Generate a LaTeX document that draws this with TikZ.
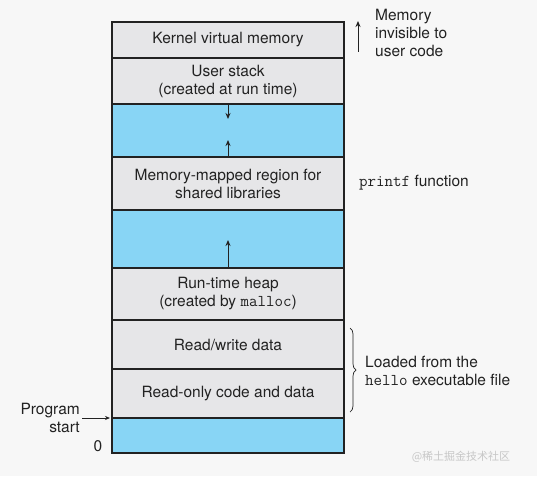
\documentclass[tikz,border=0pt]{standalone}
\usepackage{fontspec}
\setmainfont{TeX Gyre Heros}
\newfontfamily\cjkfont{Noto Sans CJK SC}
\usetikzlibrary{arrows.meta,decorations.pathreplacing}
\definecolor{bgcol}{HTML}{F7F7F7}
\definecolor{grayfill}{HTML}{E6E6E8}
\definecolor{bluefill}{HTML}{88D5F5}
\definecolor{edge}{HTML}{222222}
\begin{document}
\begin{tikzpicture}[x=1pt,y=-1pt,
  every node/.style={font=\fontsize{15.5}{18}\selectfont, text=edge},
  region/.style={draw=edge, line width=1.9pt, minimum width=232pt, inner sep=0pt, outer sep=0pt, align=center},
  grayreg/.style={region, fill=grayfill},
  bluereg/.style={region, fill=bluefill},
  arr/.style={-{Stealth[length=6pt,width=5pt]}, line width=1pt, draw=edge},
  sidelabel/.style={align=left, inner sep=0pt}
]
\fill[bgcol] (0,0) rectangle (537,476);
\useasboundingbox (0,0) rectangle (537,476);

\node[grayreg, minimum height=36pt] (kern) at (228,40) {Kernel virtual memory};
\node[grayreg, minimum height=46pt] (ustack) at (228,81) {User stack\\(created at run time)};
\node[bluereg, minimum height=53pt] (gap1) at (228,130.5) {};
\node[grayreg, minimum height=53pt] (mmap) at (228,183.5) {Memory-mapped region for\\shared libraries};
\node[bluereg, minimum height=58pt] (gap2) at (228,239) {};
\node[grayreg, minimum height=52pt] (heap) at (228,294) {Run-time heap\\(created by {\ttfamily\fontsize{16.5}{18}\selectfont malloc})};
\node[grayreg, minimum height=49pt] (rw) at (228,344.5) {Read/write data};
\node[grayreg, minimum height=49pt] (ro) at (228,393.5) {Read-only code and data};
\node[bluereg, minimum height=35pt] (gap3) at (228,435.5) {};

% growth arrows
\coordinate (stacktip) at (228,119);
\coordinate (mmaptip) at (228,140);
\coordinate (heaptip) at (228,240);
\draw[arr] (ustack.south) -- (stacktip);
\draw[arr] (mmap.north) -- (mmaptip);
\draw[arr] (heap.north) -- (heaptip);

% right labels
\coordinate (invbot) at (358,52);
\coordinate (invtop) at (358,21);
\draw[arr] (invbot) -- (invtop);
\node[sidelabel, anchor=west] (inv) at (375,33) {Memory\\invisible to\\user code};
\node[sidelabel, anchor=west] (printf) at (359,183) {{\ttfamily\fontsize{16.5}{18}\selectfont printf} function};

\coordinate (bractop) at (350,328);
\coordinate (bracbot) at (350,412);
\draw[line width=0.7pt, edge, decorate, decoration={brace, amplitude=6pt}] (bractop) -- (bracbot);
\node[sidelabel, anchor=west] (loaded) at (365,371) {Loaded from the\\{\ttfamily\fontsize{16.5}{18}\selectfont hello} executable file};

% left labels
\node[align=right, inner sep=0pt, anchor=east] (pstart) at (80,418) {Program\\start};
\coordinate (pstip) at (110,418);
\draw[-{Stealth[length=5pt,width=4pt]}, line width=0.8pt, edge] (pstart.east) ++(2,0) -- (pstip);
\node[inner sep=0pt] (zero) at (98,446) {0};

% watermark
\node[inner sep=0pt, text=black!22, font=\cjkfont\fontsize{11}{13}\selectfont] (wm) at (461,457) {@稀土掘金技术社区};
\end{tikzpicture}
\end{document}
